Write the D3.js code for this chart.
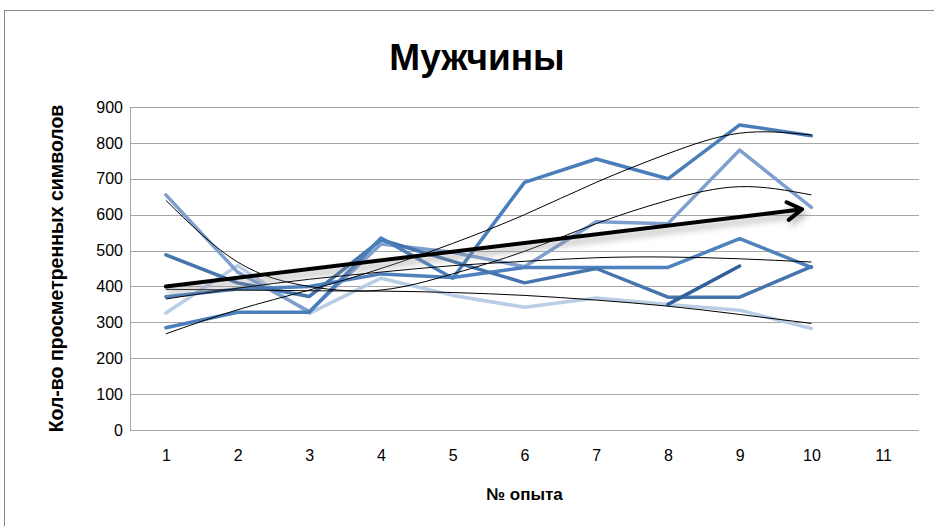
<!DOCTYPE html>
<html>
<head>
<meta charset="utf-8">
<title>Мужчины</title>
<script src="https://d3js.org/d3.v7.min.js"></script>
<style>
    body { margin: 0; background: #fff; }
    svg { font-family: "Liberation Sans", Arial, sans-serif; }
    .grid line { stroke: #a6a6a6; stroke-width: 1; shape-rendering: crispEdges; }
    .tick text { fill: #000; }
    path.series { fill: none; stroke-width: 3.5; stroke-linejoin: round; stroke-linecap: round; }
    path.trend { fill: none; stroke: #000; stroke-width: 1; }
</style>
</head>
<body>
<svg id="chart" width="934" height="526"></svg>
<script>
// categories on the x axis
const categories = [1, 2, 3, 4, 5, 6, 7, 8, 9, 10, 11];
const yTicks = [0, 100, 200, 300, 400, 500, 600, 700, 800, 900];

// series, one value per experiment 1..10 (null = no point)
const s1 = [285, 328, 328, 535, 423, 690, 755, 700, 850, 820];
const s2 = [488, 410, 372, 530, 470, 410, 450, 370, 370, 455];
const s3 = [371, 393, 400, 435, 425, 453, 453, 453, 533, 453];
const s4 = [655, 440, 330, 518, 495, 455, 580, 575, 780, 620];
const s5 = [326, 458, 325, 423, 375, 342, 368, 350, 334, 283];
const s6 = [null, null, null, null, null, null, null, 350, 457, null];

// polynomial trend lines (values at 1..10)
const t1 = [268, 335, 390, 450, 520, 600, 690, 770, 827, 822];
const t4 = [640, 468, 400, 390, 435, 498, 575, 640, 678, 655];
const t3 = [365, 395, 420, 440, 458, 470, 480, 482, 477, 468];
const t5 = [392, 390, 388, 387, 383, 375, 362, 345, 322, 297];

// drawn arrow: [category, value] start and end
const arrowFrom = [1, 400];
const arrowTo = [9.87, 615];

const svg = d3.select('#chart');
const plotL = 130, plotR = 919, plotT = 107, plotB = 430;

let x = d3.scaleLinear().domain([0.5, 11.5]).range([plotL, plotR]);
let y = d3.scaleLinear().domain([0, 900]).range([plotB, plotT]);

// outer frame
svg.append('rect')
    .attr('x', 4.5).attr('y', 10.5)
    .attr('width', 960).attr('height', 540)
    .attr('fill', 'none').attr('stroke', '#868686');

// title
svg.append('text')
    .attr('x', 477).attr('y', 70)
    .attr('text-anchor', 'middle')
    .style('font-size', '37px').style('font-weight', 'bold')
    .text('Мужчины');

// gridlines
svg.append('g').attr('class', 'grid')
    .selectAll('line').data(yTicks).enter()
    .append('line')
    .attr('x1', plotL).attr('x2', plotR)
    .attr('y1', d => Math.round(y(d)) + 0.5).attr('y2', d => Math.round(y(d)) + 0.5);
svg.append('g').attr('class', 'grid')
    .append('line')
    .attr('x1', plotL + 0.5).attr('x2', plotL + 0.5)
    .attr('y1', plotT).attr('y2', plotB);

// y axis labels
let yAxis = svg.append('g')
    .attr('transform', 'translate(' + (plotL - 7) + ',0)')
    .call(d3.axisLeft(y).tickValues(yTicks).tickSize(0).tickPadding(0));
yAxis.select('.domain').remove();
yAxis.selectAll('text').style('font-size', '16px').style('font-family', '"Liberation Sans", Arial, sans-serif');

// x axis labels
let xAxis = svg.append('g')
    .attr('transform', 'translate(0,' + plotB + ')')
    .call(d3.axisBottom(x).tickValues(categories).tickSize(0).tickPadding(20));
xAxis.select('.domain').remove();
xAxis.selectAll('text').style('font-size', '16px').style('font-family', '"Liberation Sans", Arial, sans-serif');

// axis titles
svg.append('text')
    .attr('x', (plotL + plotR) / 2).attr('y', 500)
    .attr('text-anchor', 'middle')
    .style('font-size', '17px').style('font-weight', 'bold')
    .text('№ опыта');
svg.append('text')
    .attr('transform', 'translate(63,' + ((plotT + plotB) / 2) + ') rotate(-90)')
    .attr('text-anchor', 'middle')
    .style('font-size', '19.5px').style('font-weight', 'bold')
    .text('Кол-во просметренных символов');

// series lines
let line = d3.line()
    .defined(d => d !== null)
    .x((d, i) => x(categories[i]))
    .y(d => y(d));

let series = [
    { values: s5, color: '#b9cde5' },
    { values: s4, color: '#7f9fcf' },
    { values: s3, color: '#4f81bd' },
    { values: s2, color: '#4674ad' },
    { values: s1, color: '#4a7ebb' },
    { values: s6, color: '#31609a' },
];
svg.append('g').selectAll('path').data(series).enter()
    .append('path')
    .attr('class', 'series')
    .attr('stroke', d => d.color)
    .attr('d', d => line(d.values));

// trend lines
let trend = d3.line()
    .curve(d3.curveNatural)
    .x((d, i) => x(categories[i]))
    .y(d => y(d));
svg.append('g').selectAll('path').data([t1, t4, t3, t5]).enter()
    .append('path')
    .attr('class', 'trend')
    .attr('d', d => trend(d));

// arrow with soft shadow
let defs = svg.append('defs');
let f = defs.append('filter').attr('id', 'shadow')
    .attr('x', '-10%').attr('y', '-100%').attr('width', '120%').attr('height', '400%');
f.append('feGaussianBlur').attr('stdDeviation', 3);

let ax0 = x(arrowFrom[0]), ay0 = y(arrowFrom[1]);
let ax1 = x(arrowTo[0]), ay1 = y(arrowTo[1]);
let ang = Math.atan2(ay1 - ay0, ax1 - ax0);
let head = 17;
let hx1 = ax1 - head * Math.cos(ang - 0.55), hy1 = ay1 - head * Math.sin(ang - 0.55);
let hx2 = ax1 - head * Math.cos(ang + 0.55), hy2 = ay1 - head * Math.sin(ang + 0.55);
let arrowPath = 'M' + ax0 + ',' + ay0 + 'L' + ax1 + ',' + ay1 +
    'M' + hx1 + ',' + hy1 + 'L' + ax1 + ',' + ay1 + 'L' + hx2 + ',' + hy2;

svg.append('path')
    .attr('d', arrowPath)
    .attr('transform', 'translate(2,5)')
    .attr('fill', 'none').attr('stroke', '#8c8c8c').attr('stroke-width', 5)
    .attr('opacity', 0.55)
    .attr('filter', 'url(#shadow)');
svg.append('path')
    .attr('d', arrowPath)
    .attr('fill', 'none').attr('stroke', '#000').attr('stroke-width', 4)
    .attr('stroke-linecap', 'round').attr('stroke-linejoin', 'round');
</script>
</body>
</html>
